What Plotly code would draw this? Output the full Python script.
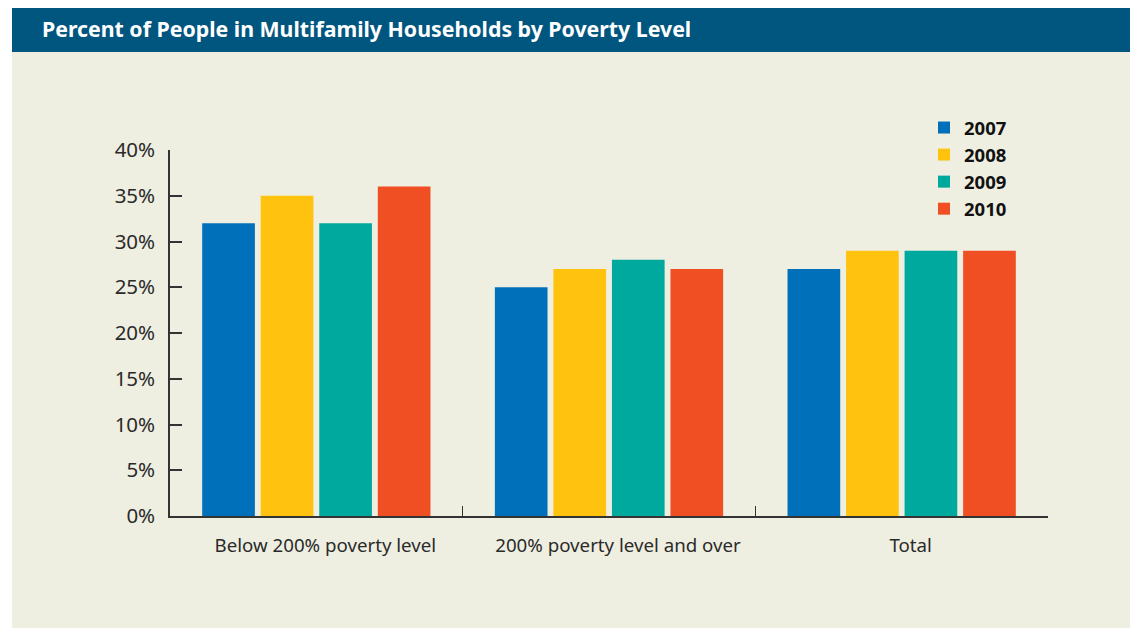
import plotly.graph_objects as go

categories = ["Below 200% poverty level", "200% poverty level and over", "Total"]
years = ["2007", "2008", "2009", "2010"]
v2007 = [32, 25, 27]
v2008 = [35, 27, 29]
v2009 = [32, 28, 29]
v2010 = [36, 27, 29]
series = [v2007, v2008, v2009, v2010]
colors = ["#0070BA", "#FFC20E", "#00A99D", "#F04E23"]
ytickvals = [0, 5, 10, 15, 20, 25, 30, 35, 40]
yticktext = ["0%", "5%", "10%", "15%", "20%", "25%", "30%", "35%", "40%"]

# page body has an 8px margin; work in screen pixels and convert
OFF = 8
W, H = 1138 - OFF, 628 - OFF
L = 170 - OFF
T = 150 - OFF
R = W - (1048 - OFF)
B = H - (516 - OFF)
PW, PH = W - L - R, H - T - B


def px(x):
    return (x - OFF - L) / PW


def py(y):
    return 1 - (y - OFF - T) / PH


FONT = "Noto Sans"

fig = go.Figure()
for yr, vals, c in zip(years, series, colors):
    fig.add_trace(go.Bar(name=yr, x=categories, y=vals, marker=dict(color=c, line=dict(width=0))))

shapes = [
    dict(type="rect", xref="paper", yref="paper", x0=px(12), x1=px(1150), y0=py(52), y1=py(640),
         fillcolor="#EFEFE1", line=dict(width=0), layer="below"),
    dict(type="rect", xref="paper", yref="paper", x0=px(12), x1=px(1150), y0=py(5), y1=py(52),
         fillcolor="#00567F", line=dict(width=0), layer="below"),
]

fig.update_layout(
    width=W, height=H,
    margin=dict(l=L, r=R, t=T, b=B, autoexpand=False),
    paper_bgcolor="white", plot_bgcolor="rgba(0,0,0,0)",
    barmode="group", bargap=0.2, bargroupgap=0.1,
    shapes=shapes,
    font=dict(family=FONT, color="#2a2a2a", size=18.7),
    annotations=[dict(text="<b>Percent of People in Multifamily Households by Poverty Level</b>",
                      xref="paper", yref="paper", x=px(40), y=py(29), xanchor="left", yanchor="middle",
                      showarrow=False, font=dict(family=FONT, size=21.3, color="white"))],
    legend=dict(x=px(924), y=py(109), xanchor="left", yanchor="top", bgcolor="rgba(0,0,0,0)",
                font=dict(family=FONT, size=18.5, color="#111111", weight="bold"),
                tracegroupgap=0, itemsizing="constant"),
    showlegend=True,
)
fig.update_yaxes(range=[0, 40], tickvals=ytickvals, ticktext=yticktext, showgrid=False, zeroline=False,
                 showline=True, linecolor="#333333", linewidth=1.5, ticks="inside", ticklen=12,
                 tickcolor="#333333", tickwidth=1.5, ticklabelstandoff=9,
                 tickfont=dict(size=20.5, color="#2a2a2a"))
fig.update_xaxes(showgrid=False, showline=True, linecolor="#333333", linewidth=1.5, ticks="inside",
                 tickson="boundaries", ticklen=10, tickcolor="#333333", tickwidth=1.2,
                 ticklabelstandoff=12, ticklabelshift=9)

fig.write_html("out.html")
